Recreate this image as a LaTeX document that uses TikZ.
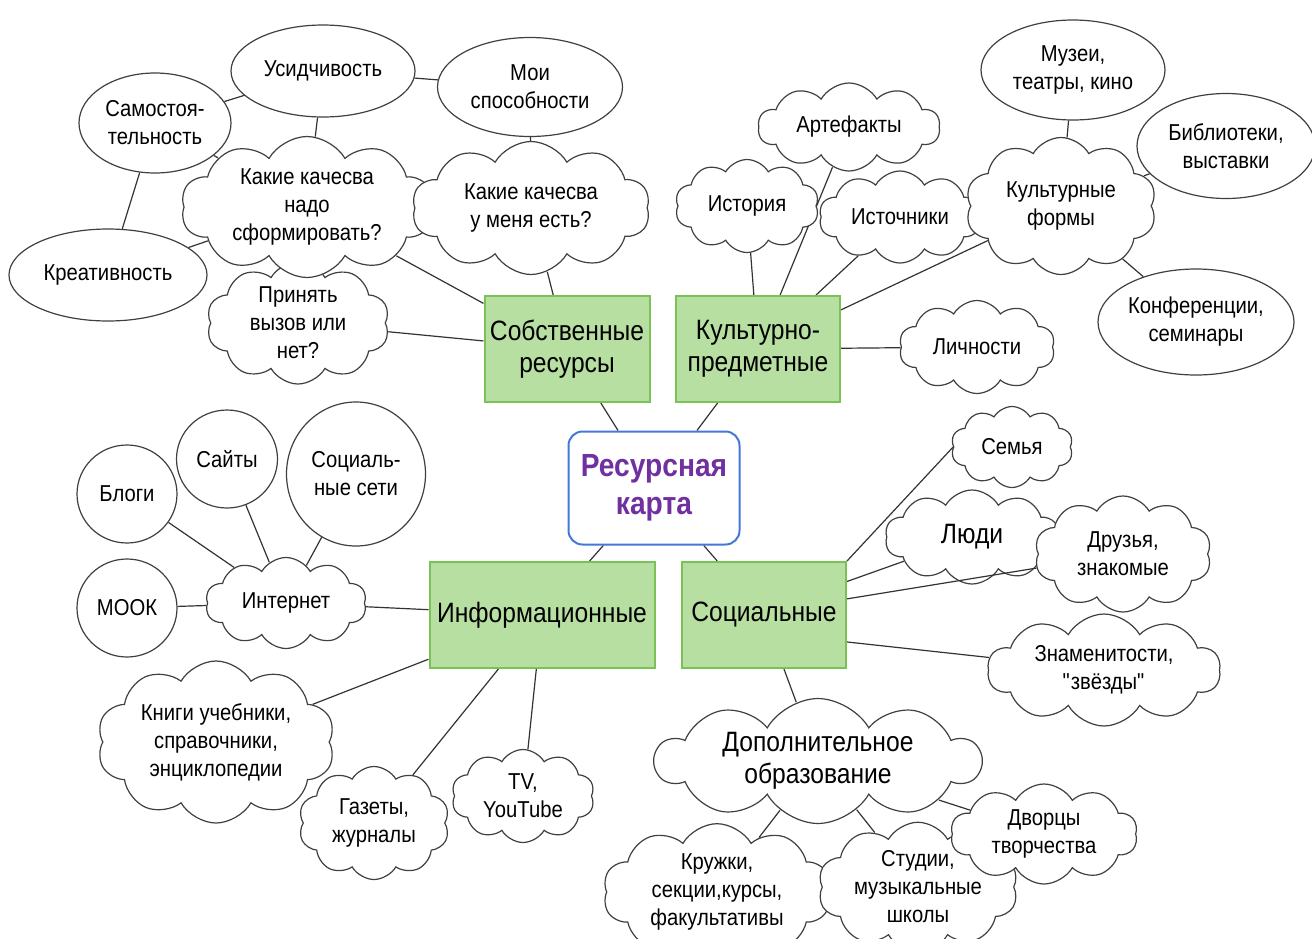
\documentclass[tikz,border=0pt]{standalone}
\usepackage{fontspec}
\setmainfont{Liberation Sans}[FakeStretch=0.88]
\usetikzlibrary{shapes.geometric,shapes.symbols}
\pgfdeclarelayer{back}
\pgfsetlayers{back,main}
\definecolor{boxgreen}{RGB}{183,223,162}
\definecolor{linegreen}{RGB}{122,194,88}
\definecolor{hubblue}{RGB}{68,119,214}
\definecolor{hubpurple}{RGB}{112,48,160}
\newcommand{\leaffont}{\fontsize{11.5}{14}\selectfont}
\newcommand{\branchfont}{\fontsize{14}{16}\selectfont}
\newcommand{\hubfont}{\fontsize{16}{19}\selectfont\bfseries}

\begin{document}
\begin{tikzpicture}[x=0.5pt, y=-0.5pt,
      every node/.style = {draw=black!75, fill=white, line width=0.6pt,
        align=center, inner sep=0pt, font=\leaffont},
      wh/.style 2 args = {minimum width=#1*0.5pt, minimum height=#2*0.5pt},
      bubble/.style = {ellipse},
      puff/.style = {cloud, cloud puffs=10, cloud puff arc=120,
        cloud ignores aspect},
      branch/.style = {rectangle, draw=linegreen, fill=boxgreen,
        line width=1pt, font=\branchfont},
      hub/.style = {rectangle, rounded corners=7pt, draw=hubblue,
        line width=1pt, text=hubpurple, font=\hubfont},
      link/.style = {draw=black!80, line width=0.6pt}]
  \useasboundingbox (0,0) rectangle (1312,938);

  \node[hub, wh={171}{113}] (karta) at (654,488) {Ресурсная\\карта};
  \node[branch, wh={165}{106}] (own) at (567,349) {Собственные\\ресурсы};
  \node[branch, wh={164}{106}] (cult) at (758,349) {Культурно-\\предметные};
  \node[branch, wh={225}{106}] (info) at (542,615) {Информационные};
  \node[branch, wh={164}{106}] (soc) at (764,615) {Социальные};

  \node[bubble, wh={184}{92}] (usid) at (323,71) {Усидчивость};
  \node[bubble, wh={185}{99}] (moi) at (530,87) {Мои\\способности};
  \node[bubble, wh={152}{100}] (samo) at (155,123) {Самостоя-\\тельность};
  \node[bubble, wh={198}{92}] (kreat) at (108,275) {Креативность};
  \node[puff, wh={183}{122}] (prinyat) at (298,323) {Принять\\вызов или\\нет?};
  \node[puff, wh={252}{141}] (nado) at (307,207) {Какие качесва\\надо\\сформировать?};
  \node[puff, wh={238}{133}] (est) at (531,208) {Какие качесва\\у меня есть?};

  \node[bubble, wh={184}{100}] (muzei) at (1073,70) {Музеи,\\театры, кино};
  \node[bubble, wh={178}{105}] (bibl) at (1226,146) {Библиотеки,\\выставки};
  \node[bubble, wh={196}{106}] (konf) at (1196,322) {Конференции,\\семинары};
  \node[puff, wh={182}{88}] (artef) at (849,127) {Артефакты};
  \node[puff, wh={144}{93}] (istor) at (747,206) {История};
  \node[puff, wh={162}{92}] (istoch) at (900,217) {Источники};
  \node[puff, wh={191}{137}] (kform) at (1061,206) {Культурные\\формы};
  \node[puff, wh={156}{93}] (lichn) at (977,347) {Личности};

  \node[bubble, wh={100}{98}] (blogi) at (127,494) {Блоги};
  \node[bubble, wh={101}{98}] (saity) at (227,459) {Сайты};
  \node[bubble, wh={139}{144}] (socseti) at (356,474) {Социаль-\\ные сети};
  \node[bubble, wh={100}{98}] (mook) at (127,608) {МООК};
  \node[puff, wh={161}{91}] (internet) at (286,603) {Интернет};
  \node[puff, wh={238}{162}] (knigi) at (216,742) {Книги учебники,\\справочники,\\энциклопедии};
  \node[puff, wh={151}{113}] (gazety) at (374,823) {Газеты,\\журналы};
  \node[puff, wh={143}{93}] (tv) at (523,796) {TV,\\YouTube};

  \node[puff, wh={122}{81}] (semya) at (1012,447) {Семья};
  \node[puff, wh={174}{94}, font=\branchfont] (ludi) at (972,537) {Люди};
  \node[puff, wh={177}{116}] (druzya) at (1123,554) {Друзья,\\знакомые};
  \node[puff, wh={233}{112}] (znam) at (1104,670) {Знаменитости,\\\textquotedbl звёзды\textquotedbl};
  \node[puff, wh={325}{124}, font=\branchfont] (dop) at (818,761) {Дополнительное\\образование};
  \node[puff, wh={228}{120}] (kruzhki) at (717,892) {Кружки,\\секции,курсы,\\факультативы};
  \node[puff, wh={200}{118}] (studii) at (918,887) {Студии,\\музыкальные\\школы};
  \node[puff, wh={187}{100}] (dvorcy) at (1044,834) {Дворцы\\творчества};

  \begin{pgfonlayer}{back}
    \draw[link] (own) -- (karta);
    \draw[link] (cult) -- (karta);
    \draw[link] (info) -- (karta);
    \draw[link] (soc) -- (karta);
    \draw[link] (samo) -- (usid);
    \draw[link] (usid) -- (moi);
    \draw[link] (usid) -- (nado);
    \draw[link] (samo) -- (nado);
    \draw[link] (samo) -- (kreat);
    \draw[link] (kreat) -- (nado);
    \draw[link] (nado) -- (prinyat);
    \draw[link] (moi) -- (est);
    \draw[link] (nado) -- (own);
    \draw[link] (est) -- (own);
    \draw[link] (prinyat) -- (own);
    \draw[link] (istor) -- (cult);
    \draw[link] (artef) -- (cult);
    \draw[link] (istoch) -- (cult);
    \draw[link] (kform) -- (cult);
    \draw[link] (lichn) -- (cult);
    \draw[link] (muzei) -- (kform);
    \draw[link] (bibl) -- (kform);
    \draw[link] (konf) -- (kform);
    \draw[link] (blogi) -- (internet);
    \draw[link] (saity) -- (internet);
    \draw[link] (socseti) -- (internet);
    \draw[link] (mook) -- (internet);
    \draw[link] (internet) -- (info);
    \draw[link] (knigi) -- (info);
    \draw[link] (gazety) -- (info);
    \draw[link] (tv) -- (info);
    \draw[link] (semya.west) -- (soc.north east);
    \draw[link] (ludi) -- (soc.22);
    \draw[link] (znam) -- (soc.-18);
    \draw[link] (soc) -- (dop);
    \draw[link] (dop) -- (dvorcy);
    \draw[link] (dop) -- (kruzhki);
    \draw[link] (dop) -- (studii);
  \end{pgfonlayer}
  \draw[link] (druzya) -- (soc.11);
\end{tikzpicture}
\end{document}
